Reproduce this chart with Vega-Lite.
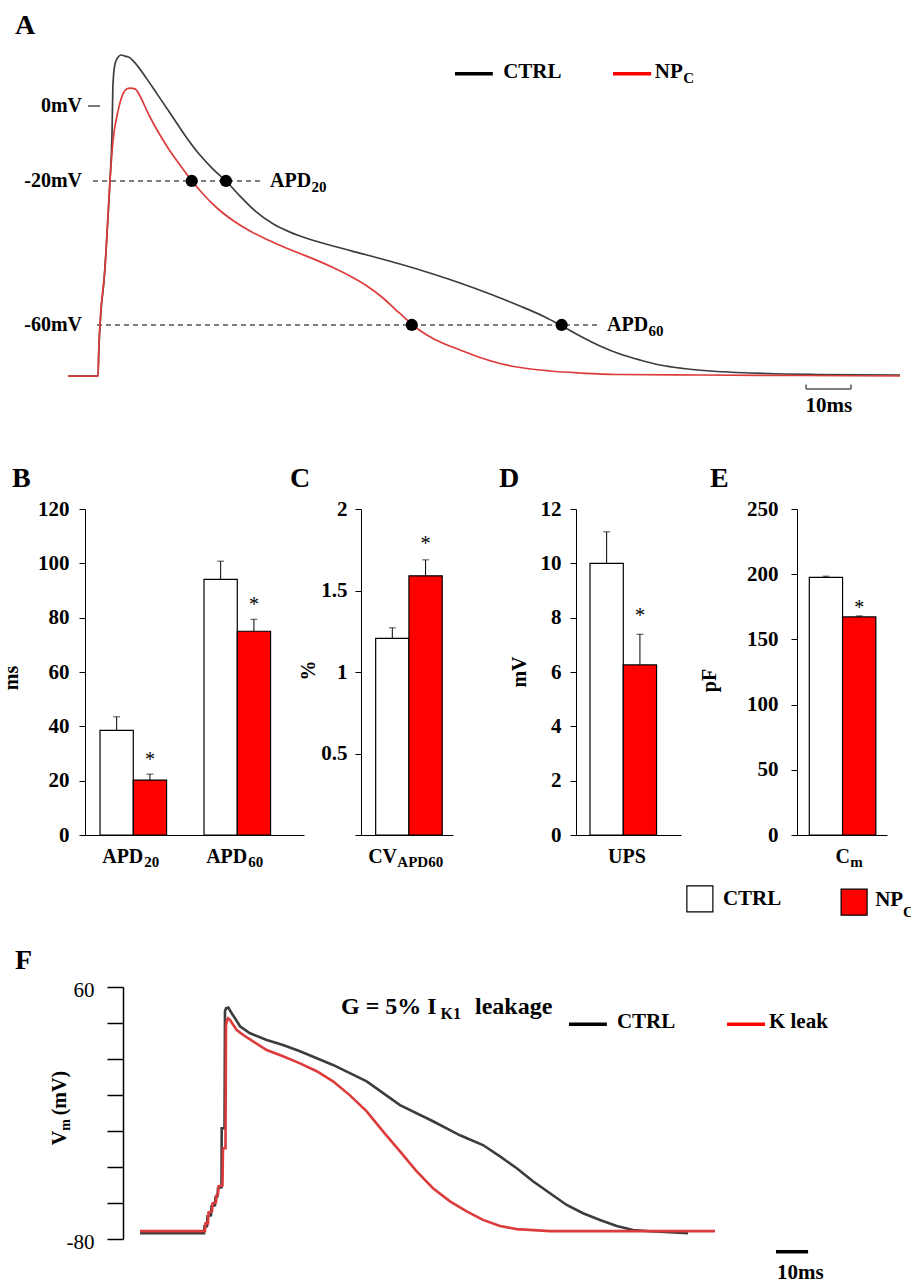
{
"$schema": "https://vega.github.io/schema/vega-lite/v6.json",
"padding": {"left": 1, "top": 11, "right": 5, "bottom": 0},
"background": "white",
"spacing": 13,
"config": {"view": {"stroke": null}, "font": "Liberation Serif", "axis": {"grid": false, "labelFontWeight": "bold", "titleFontWeight": "bold"}},
"datasets": {
"apA": [
{"s":"CTRL","t":0,"v":-74.2},{"s":"CTRL","t":6.67,"v":-74.2},{"s":"CTRL","t":6.89,"v":-65.8},{"s":"CTRL","t":7.33,"v":-56.1},{"s":"CTRL","t":8.0,"v":-47.8},{"s":"CTRL","t":8.67,"v":-34.7},{"s":"CTRL","t":9.33,"v":-20},{"s":"CTRL","t":9.78,"v":-6.9},{"s":"CTRL","t":10.0,"v":6.9},{"s":"CTRL","t":10.44,"v":12.5},{"s":"CTRL","t":11.11,"v":14.4},{"s":"CTRL","t":11.78,"v":15.0},{"s":"CTRL","t":12.67,"v":14.7},{"s":"CTRL","t":13.78,"v":14.2},{"s":"CTRL","t":14.89,"v":12.8},{"s":"CTRL","t":17.56,"v":8.3},{"s":"CTRL","t":19.78,"v":4.2},{"s":"CTRL","t":22.67,"v":-1.1},{"s":"CTRL","t":26.44,"v":-8.1},{"s":"CTRL","t":29.33,"v":-12.8},{"s":"CTRL","t":32.22,"v":-16.7},{"s":"CTRL","t":35.11,"v":-20},{"s":"CTRL","t":38.22,"v":-24.2},{"s":"CTRL","t":41.56,"v":-28.3},{"s":"CTRL","t":45.56,"v":-31.9},{"s":"CTRL","t":49.33,"v":-34.2},{"s":"CTRL","t":51.56,"v":-35.28},{"s":"CTRL","t":58.89,"v":-38.06},{"s":"CTRL","t":66.44,"v":-40.56},{"s":"CTRL","t":73.78,"v":-43.06},{"s":"CTRL","t":81.11,"v":-45.83},{"s":"CTRL","t":87.11,"v":-48.33},{"s":"CTRL","t":93.78,"v":-51.39},{"s":"CTRL","t":100.44,"v":-54.72},{"s":"CTRL","t":106.0,"v":-57.78},{"s":"CTRL","t":109.78,"v":-60.28},{"s":"CTRL","t":113.78,"v":-63.06},{"s":"CTRL","t":118.22,"v":-65.83},{"s":"CTRL","t":122.67,"v":-68.06},{"s":"CTRL","t":127.11,"v":-69.72},{"s":"CTRL","t":131.56,"v":-71.11},{"s":"CTRL","t":136.67,"v":-72.08},{"s":"CTRL","t":144.22,"v":-72.92},{"s":"CTRL","t":151.56,"v":-73.33},{"s":"CTRL","t":158.89,"v":-73.61},{"s":"CTRL","t":166.44,"v":-73.75},{"s":"CTRL","t":184.89,"v":-73.89},
{"s":"NP","t":0,"v":-74.2},{"s":"NP","t":6.67,"v":-74.2},{"s":"NP","t":6.78,"v":-68.6},{"s":"NP","t":7.11,"v":-59.7},{"s":"NP","t":8.22,"v":-44.2},{"s":"NP","t":9.33,"v":-20},{"s":"NP","t":10.0,"v":-8.9},{"s":"NP","t":11.11,"v":-0.6},{"s":"NP","t":12.22,"v":4.2},{"s":"NP","t":13.11,"v":5.6},{"s":"NP","t":13.78,"v":5.8},{"s":"NP","t":14.89,"v":5.6},{"s":"NP","t":16.0,"v":3.6},{"s":"NP","t":17.56,"v":-0.56},{"s":"NP","t":18.22,"v":-2.22},{"s":"NP","t":20.44,"v":-7.22},{"s":"NP","t":22.67,"v":-11.67},{"s":"NP","t":24.89,"v":-15.56},{"s":"NP","t":27.56,"v":-20},{"s":"NP","t":30.0,"v":-23.61},{"s":"NP","t":33.11,"v":-27.5},{"s":"NP","t":36.67,"v":-30.97},{"s":"NP","t":40.44,"v":-33.89},{"s":"NP","t":44.22,"v":-36.25},{"s":"NP","t":48.22,"v":-38.47},{"s":"NP","t":51.56,"v":-40.14},{"s":"NP","t":58.89,"v":-44.03},{"s":"NP","t":62.67,"v":-46.39},{"s":"NP","t":66.44,"v":-49.17},{"s":"NP","t":70.0,"v":-52.5},{"s":"NP","t":72.67,"v":-55.56},{"s":"NP","t":74.89,"v":-58.06},{"s":"NP","t":76.44,"v":-59.86},{"s":"NP","t":78.22,"v":-61.53},{"s":"NP","t":81.11,"v":-63.75},{"s":"NP","t":84.0,"v":-65.42},{"s":"NP","t":87.11,"v":-66.94},{"s":"NP","t":91.56,"v":-69.03},{"s":"NP","t":96.0,"v":-70.69},{"s":"NP","t":100.44,"v":-71.81},{"s":"NP","t":107.11,"v":-72.78},{"s":"NP","t":113.78,"v":-73.33},{"s":"NP","t":122.0,"v":-73.75},{"s":"NP","t":140.44,"v":-73.89},{"s":"NP","t":162.67,"v":-74.03},{"s":"NP","t":184.89,"v":-74.17}
],
"apdA": [{"t":27.5,"v":-20},{"t":35.1,"v":-20},{"t":76.4,"v":-60},{"t":109.7,"v":-60}],
"apF": [
{"s":"CTRL","t":0,"v":-76.8},{"s":"CTRL","t":19.75,"v":-76.8},{"s":"CTRL","t":19.91,"v":-72.9},{"s":"CTRL","t":20.68,"v":-72.9},{"s":"CTRL","t":20.83,"v":-67.4},{"s":"CTRL","t":21.91,"v":-66.8},{"s":"CTRL","t":22.07,"v":-61.8},{"s":"CTRL","t":23.15,"v":-61.3},{"s":"CTRL","t":23.3,"v":-56.8},{"s":"CTRL","t":23.92,"v":-56.3},{"s":"CTRL","t":24.07,"v":-51.8},{"s":"CTRL","t":25.15,"v":-51.3},{"s":"CTRL","t":25.22,"v":-18.5},{"s":"CTRL","t":26.08,"v":-18.5},{"s":"CTRL","t":26.23,"v":46.5},{"s":"CTRL","t":26.54,"v":48.2},{"s":"CTRL","t":27.25,"v":48.6},{"s":"CTRL","t":28.3,"v":45.4},{"s":"CTRL","t":29.32,"v":42.6},{"s":"CTRL","t":30.86,"v":38.2},{"s":"CTRL","t":33.95,"v":34.3},{"s":"CTRL","t":39.1,"v":30.6},{"s":"CTRL","t":44.14,"v":27.8},{"s":"CTRL","t":49.38,"v":24.3},{"s":"CTRL","t":59.57,"v":16.7},{"s":"CTRL","t":69.97,"v":7.6},{"s":"CTRL","t":80.25,"v":-5.6},{"s":"CTRL","t":90.43,"v":-14.6},{"s":"CTRL","t":98.77,"v":-22.4},{"s":"CTRL","t":105.86,"v":-27.8},{"s":"CTRL","t":111.11,"v":-34.1},{"s":"CTRL","t":116.27,"v":-40.7},{"s":"CTRL","t":121.3,"v":-47.9},{"s":"CTRL","t":126.54,"v":-54.6},{"s":"CTRL","t":131.7,"v":-61.1},{"s":"CTRL","t":136.73,"v":-65.7},{"s":"CTRL","t":141.98,"v":-69.4},{"s":"CTRL","t":147.13,"v":-72.8},{"s":"CTRL","t":152.16,"v":-75.0},{"s":"CTRL","t":157.41,"v":-75.7},{"s":"CTRL","t":169.14,"v":-76.8},
{"s":"NP","t":0,"v":-75.6},{"s":"NP","t":20.06,"v":-75.6},{"s":"NP","t":20.22,"v":-71.3},{"s":"NP","t":20.99,"v":-71.3},{"s":"NP","t":21.14,"v":-65.2},{"s":"NP","t":22.22,"v":-64.6},{"s":"NP","t":22.38,"v":-60.2},{"s":"NP","t":23.46,"v":-59.6},{"s":"NP","t":23.61,"v":-55.7},{"s":"NP","t":24.07,"v":-55.2},{"s":"NP","t":24.23,"v":-50.7},{"s":"NP","t":25.46,"v":-50.2},{"s":"NP","t":25.62,"v":-29.6},{"s":"NP","t":26.39,"v":-29.6},{"s":"NP","t":26.54,"v":38.7},{"s":"NP","t":26.85,"v":41.5},{"s":"NP","t":27.16,"v":42.6},{"s":"NP","t":27.78,"v":41.7},{"s":"NP","t":28.8,"v":38.9},{"s":"NP","t":29.85,"v":36.1},{"s":"NP","t":31.88,"v":33.3},{"s":"NP","t":34.88,"v":29.8},{"s":"NP","t":39.1,"v":25.0},{"s":"NP","t":44.14,"v":21.5},{"s":"NP","t":49.38,"v":17.6},{"s":"NP","t":54.54,"v":13.2},{"s":"NP","t":59.57,"v":7.6},{"s":"NP","t":64.81,"v":-0.2},{"s":"NP","t":69.97,"v":-9.1},{"s":"NP","t":75.0,"v":-20.2},{"s":"NP","t":80.25,"v":-31.3},{"s":"NP","t":85.4,"v":-42.4},{"s":"NP","t":90.43,"v":-51.8},{"s":"NP","t":95.68,"v":-59.1},{"s":"NP","t":100.83,"v":-64.6},{"s":"NP","t":105.86,"v":-69.4},{"s":"NP","t":111.11,"v":-72.8},{"s":"NP","t":116.27,"v":-74.5},{"s":"NP","t":126.54,"v":-75.6},{"s":"NP","t":177.47,"v":-75.6}
],
"B": [{"cat":"APD20","group":"CTRL","mean":38.5,"hi":43.5,"sig":""},{"cat":"APD20","group":"NP","mean":20.2,"hi":22.4,"sig":"*"},{"cat":"APD60","group":"CTRL","mean":94.1,"hi":100.8,"sig":""},{"cat":"APD60","group":"NP","mean":75.0,"hi":79.4,"sig":"*"}],
"C": [{"cat":"CV","group":"CTRL","mean":1.206,"hi":1.271,"sig":""},{"cat":"CV","group":"NP","mean":1.59,"hi":1.688,"sig":"*"}],
"D": [{"cat":"UPS","group":"CTRL","mean":10.0,"hi":11.16,"sig":""},{"cat":"UPS","group":"NP","mean":6.26,"hi":7.39,"sig":"*"}],
"E": [{"cat":"Cm","group":"CTRL","mean":197.5,"hi":198.5,"sig":""},{"cat":"Cm","group":"NP","mean":167.2,"hi":168.0,"sig":"*"}]
},
"vconcat": [
{
"width": 820, "height": 406,
"data": {"values": [{}]},
"title": {"text": "A", "anchor": "start", "frame": "group", "dx": -70, "offset": -15.5, "baseline": "alphabetic", "fontSize": 28, "fontWeight": "bold", "font": "Liberation Serif", "color": "black"},
"layer": [
{"mark": {"type": "rule", "strokeDash": [5,4], "color": "black", "strokeWidth": 1.1}, "encoding": {"x": {"datum": 5.56, "type": "quantitative", "scale": {"domain": [3.778, 186], "nice": false, "zero": false}, "axis": null}, "x2": {"datum": 43.1}, "y": {"datum": -20, "type": "quantitative", "scale": {"domain": [-95.28, 17.5], "nice": false, "zero": false}, "axis": null}}},
{"mark": {"type": "rule", "strokeDash": [5,4], "color": "black", "strokeWidth": 1.1}, "encoding": {"x": {"datum": 6.44, "type": "quantitative", "scale": {"domain": [3.778, 186], "nice": false, "zero": false}, "axis": null}, "x2": {"datum": 117.8}, "y": {"datum": -60, "type": "quantitative", "scale": {"domain": [-95.28, 17.5], "nice": false, "zero": false}, "axis": null}}},
{"mark": {"type": "rule", "color": "#555555", "strokeWidth": 1.6}, "encoding": {"x": {"datum": 4.44, "type": "quantitative", "scale": {"domain": [3.778, 186], "nice": false, "zero": false}, "axis": null}, "x2": {"datum": 7.11}, "y": {"datum": 0.83, "type": "quantitative", "scale": {"domain": [-95.28, 17.5], "nice": false, "zero": false}, "axis": null}}},
{"data": {"name": "apA"}, "mark": {"type": "line", "strokeWidth": 1.7, "interpolate": "monotone"}, "encoding": {"x": {"field": "t", "type": "quantitative", "scale": {"domain": [3.778, 186], "nice": false, "zero": false}, "axis": null}, "y": {"field": "v", "type": "quantitative", "scale": {"domain": [-95.28, 17.5], "nice": false, "zero": false}, "axis": null}, "color": {"field": "s", "type": "nominal", "scale": {"domain": ["CTRL", "NP"], "range": ["#3d3d3d", "#dc3b3b"]}, "legend": null}}},
{"data": {"name": "apdA"}, "mark": {"type": "circle", "size": 150, "color": "black", "opacity": 1}, "encoding": {"x": {"field": "t", "type": "quantitative", "scale": {"domain": [3.778, 186], "nice": false, "zero": false}, "axis": null}, "y": {"field": "v", "type": "quantitative", "scale": {"domain": [-95.28, 17.5], "nice": false, "zero": false}, "axis": null}}},
{"mark": {"type": "text", "text": "0mV", "align": "right", "baseline": "middle", "fontSize": 20, "fontWeight": "bold", "font": "Liberation Serif", "color": "black"}, "encoding": {"x": {"datum": 3.11, "type": "quantitative", "scale": {"domain": [3.778, 186], "nice": false, "zero": false}, "axis": null}, "y": {"datum": 0.83, "type": "quantitative", "scale": {"domain": [-95.28, 17.5], "nice": false, "zero": false}, "axis": null}}},
{"mark": {"type": "text", "text": "-20mV", "align": "right", "baseline": "middle", "fontSize": 20, "fontWeight": "bold", "font": "Liberation Serif", "color": "black"}, "encoding": {"x": {"datum": 3.11, "type": "quantitative", "scale": {"domain": [3.778, 186], "nice": false, "zero": false}, "axis": null}, "y": {"datum": -20, "type": "quantitative", "scale": {"domain": [-95.28, 17.5], "nice": false, "zero": false}, "axis": null}}},
{"mark": {"type": "text", "text": "-60mV", "align": "right", "baseline": "middle", "fontSize": 20, "fontWeight": "bold", "font": "Liberation Serif", "color": "black"}, "encoding": {"x": {"datum": 3.11, "type": "quantitative", "scale": {"domain": [3.778, 186], "nice": false, "zero": false}, "axis": null}, "y": {"datum": -60, "type": "quantitative", "scale": {"domain": [-95.28, 17.5], "nice": false, "zero": false}, "axis": null}}},
{"mark": {"type": "text", "text": "APD", "align": "left", "baseline": "middle", "fontSize": 20, "fontWeight": "bold", "font": "Liberation Serif", "color": "black"}, "encoding": {"x": {"datum": 44.9, "type": "quantitative", "scale": {"domain": [3.778, 186], "nice": false, "zero": false}, "axis": null}, "y": {"datum": -20, "type": "quantitative", "scale": {"domain": [-95.28, 17.5], "nice": false, "zero": false}, "axis": null}}},
{"mark": {"type": "text", "text": "20", "align": "left", "baseline": "alphabetic", "fontSize": 15, "fontWeight": "bold", "font": "Liberation Serif", "color": "black"}, "encoding": {"x": {"datum": 54.1, "type": "quantitative", "scale": {"domain": [3.778, 186], "nice": false, "zero": false}, "axis": null}, "y": {"datum": -23.06, "type": "quantitative", "scale": {"domain": [-95.28, 17.5], "nice": false, "zero": false}, "axis": null}}},
{"mark": {"type": "text", "text": "APD", "align": "left", "baseline": "middle", "fontSize": 20, "fontWeight": "bold", "font": "Liberation Serif", "color": "black"}, "encoding": {"x": {"datum": 119.78, "type": "quantitative", "scale": {"domain": [3.778, 186], "nice": false, "zero": false}, "axis": null}, "y": {"datum": -60, "type": "quantitative", "scale": {"domain": [-95.28, 17.5], "nice": false, "zero": false}, "axis": null}}},
{"mark": {"type": "text", "text": "60", "align": "left", "baseline": "alphabetic", "fontSize": 15, "fontWeight": "bold", "font": "Liberation Serif", "color": "black"}, "encoding": {"x": {"datum": 129.0, "type": "quantitative", "scale": {"domain": [3.778, 186], "nice": false, "zero": false}, "axis": null}, "y": {"datum": -63.06, "type": "quantitative", "scale": {"domain": [-95.28, 17.5], "nice": false, "zero": false}, "axis": null}}},
{"mark": {"type": "rule", "color": "black", "strokeWidth": 3.5}, "encoding": {"x": {"datum": 86.0, "type": "quantitative", "scale": {"domain": [3.778, 186], "nice": false, "zero": false}, "axis": null}, "x2": {"datum": 94.4}, "y": {"datum": 9.8, "type": "quantitative", "scale": {"domain": [-95.28, 17.5], "nice": false, "zero": false}, "axis": null}}},
{"mark": {"type": "text", "text": "CTRL", "align": "left", "baseline": "alphabetic", "fontSize": 21, "fontWeight": "bold", "font": "Liberation Serif", "color": "black"}, "encoding": {"x": {"datum": 96.7, "type": "quantitative", "scale": {"domain": [3.778, 186], "nice": false, "zero": false}, "axis": null}, "y": {"datum": 8.61, "type": "quantitative", "scale": {"domain": [-95.28, 17.5], "nice": false, "zero": false}, "axis": null}}},
{"mark": {"type": "rule", "color": "#ff0000", "strokeWidth": 3.5}, "encoding": {"x": {"datum": 121.1, "type": "quantitative", "scale": {"domain": [3.778, 186], "nice": false, "zero": false}, "axis": null}, "x2": {"datum": 129.6}, "y": {"datum": 9.8, "type": "quantitative", "scale": {"domain": [-95.28, 17.5], "nice": false, "zero": false}, "axis": null}}},
{"mark": {"type": "text", "text": "NP", "align": "left", "baseline": "alphabetic", "fontSize": 21, "fontWeight": "bold", "font": "Liberation Serif", "color": "black"}, "encoding": {"x": {"datum": 130.4, "type": "quantitative", "scale": {"domain": [3.778, 186], "nice": false, "zero": false}, "axis": null}, "y": {"datum": 8.61, "type": "quantitative", "scale": {"domain": [-95.28, 17.5], "nice": false, "zero": false}, "axis": null}}},
{"mark": {"type": "text", "text": "C", "align": "left", "baseline": "alphabetic", "fontSize": 15, "fontWeight": "bold", "font": "Liberation Serif", "color": "black"}, "encoding": {"x": {"datum": 136.7, "type": "quantitative", "scale": {"domain": [3.778, 186], "nice": false, "zero": false}, "axis": null}, "y": {"datum": 7.31, "type": "quantitative", "scale": {"domain": [-95.28, 17.5], "nice": false, "zero": false}, "axis": null}}},
{"mark": {"type": "rule", "color": "#555555", "strokeWidth": 1.5}, "encoding": {"x": {"datum": 164.0, "type": "quantitative", "scale": {"domain": [3.778, 186], "nice": false, "zero": false}, "axis": null}, "x2": {"datum": 174.0}, "y": {"datum": -77.8, "type": "quantitative", "scale": {"domain": [-95.28, 17.5], "nice": false, "zero": false}, "axis": null}}},
{"mark": {"type": "rule", "color": "#555555", "strokeWidth": 1.5}, "encoding": {"x": {"datum": 164.0, "type": "quantitative", "scale": {"domain": [3.778, 186], "nice": false, "zero": false}, "axis": null}, "y": {"datum": -77.8, "type": "quantitative", "scale": {"domain": [-95.28, 17.5], "nice": false, "zero": false}, "axis": null}, "y2": {"datum": -76.5}}},
{"mark": {"type": "rule", "color": "#555555", "strokeWidth": 1.5}, "encoding": {"x": {"datum": 174.0, "type": "quantitative", "scale": {"domain": [3.778, 186], "nice": false, "zero": false}, "axis": null}, "y": {"datum": -77.8, "type": "quantitative", "scale": {"domain": [-95.28, 17.5], "nice": false, "zero": false}, "axis": null}, "y2": {"datum": -76.5}}},
{"mark": {"type": "text", "text": "10ms", "align": "center", "baseline": "alphabetic", "fontSize": 21, "fontWeight": "bold", "font": "Liberation Serif", "color": "black"}, "encoding": {"x": {"datum": 169.1, "type": "quantitative", "scale": {"domain": [3.778, 186], "nice": false, "zero": false}, "axis": null}, "y": {"datum": -84.2, "type": "quantitative", "scale": {"domain": [-95.28, 17.5], "nice": false, "zero": false}, "axis": null}}}
]
},
{
"hconcat": [
{
"width": 219, "height": 326,
"data": {"name": "B"},
"title": {"text": "B", "anchor": "start", "frame": "group", "dx": -73, "offset": -17, "baseline": "alphabetic", "fontSize": 28, "fontWeight": "bold", "font": "Liberation Serif", "color": "black"},
"layer": [
{"mark": {"type": "bar", "stroke": "black", "strokeWidth": 1.2},
 "encoding": {
  "x": {"field": "cat", "type": "nominal", "scale": {"domain": ["APD20", "APD60"], "paddingInner": 0.36, "paddingOuter": 0.233, "align": 0.31}, "axis": {"title": null, "labels": false, "ticks": false, "domainColor": "black", "domainWidth": 1}},
  "xOffset": {"field": "group", "type": "nominal", "scale": {"domain": ["CTRL", "NP"], "paddingInner": 0, "paddingOuter": 0}},
  "y": {"field": "mean", "type": "quantitative", "scale": {"domain": [0, 120], "nice": false}, "axis": {"values": [0,20,40,60,80,100,120], "title": "ms", "titleFont": "Liberation Serif", "titleFontSize": 20, "titleFontWeight": "bold", "titleColor": "black", "titleAngle": 270, "titleBaseline": "middle", "titleAlign": "center", "titleX": -73.9, "titleY": 168.5, "labelFont": "Liberation Serif", "labelFontSize": 21, "labelFontWeight": "bold", "labelColor": "black", "labelPadding": 10, "tickSize": 6, "tickColor": "black", "domainColor": "black"}},
  "fill": {"field": "group", "type": "nominal", "scale": {"domain": ["CTRL", "NP"], "range": ["white", "#ff0000"]}, "legend": null}
 }},
{"mark": {"type": "rule", "color": "black", "strokeWidth": 1},
 "encoding": {
  "x": {"field": "cat", "type": "nominal", "scale": {"domain": ["APD20", "APD60"], "paddingInner": 0.36, "paddingOuter": 0.233, "align": 0.31}},
  "xOffset": {"field": "group", "type": "nominal", "scale": {"domain": ["CTRL", "NP"], "paddingInner": 0, "paddingOuter": 0}},
  "y": {"field": "mean", "type": "quantitative", "scale": {"domain": [0, 120], "nice": false}},
  "y2": {"field": "hi"}
 }},
{"mark": {"type": "tick", "color": "black", "thickness": 1, "size": 7},
 "encoding": {
  "x": {"field": "cat", "type": "nominal", "scale": {"domain": ["APD20", "APD60"], "paddingInner": 0.36, "paddingOuter": 0.233, "align": 0.31}},
  "xOffset": {"field": "group", "type": "nominal", "scale": {"domain": ["CTRL", "NP"], "paddingInner": 0, "paddingOuter": 0}},
  "y": {"field": "hi", "type": "quantitative", "scale": {"domain": [0, 120], "nice": false}}
 }},
{"mark": {"type": "text", "fontSize": 20, "dy": -8, "baseline": "alphabetic", "color": "black", "font": "Liberation Serif"},
 "encoding": {
  "x": {"field": "cat", "type": "nominal", "scale": {"domain": ["APD20", "APD60"], "paddingInner": 0.36, "paddingOuter": 0.233, "align": 0.31}},
  "xOffset": {"field": "group", "type": "nominal", "scale": {"domain": ["CTRL", "NP"], "paddingInner": 0, "paddingOuter": 0}},
  "y": {"field": "hi", "type": "quantitative", "scale": {"domain": [0, 120], "nice": false}},
  "text": {"field": "sig"}
 }},
{"data": {"values": [{"cat": "APD20", "main": "APD", "sub": "20"}, {"cat": "APD60", "main": "APD", "sub": "60"}]},
 "mark": {"type": "text", "align": "right", "dx": 10, "dy": 27.5, "baseline": "alphabetic", "fontSize": 20, "fontWeight": "bold", "color": "black", "font": "Liberation Serif"},
 "encoding": {
  "x": {"field": "cat", "type": "nominal", "scale": {"domain": ["APD20", "APD60"], "paddingInner": 0.36, "paddingOuter": 0.233, "align": 0.31}},
  "y": {"datum": 0, "type": "quantitative", "scale": {"domain": [0, 120], "nice": false}},
  "text": {"field": "main"}
 }},
{"data": {"values": [{"cat": "APD20", "main": "APD", "sub": "20"}, {"cat": "APD60", "main": "APD", "sub": "60"}]},
 "mark": {"type": "text", "align": "left", "dx": 11, "dy": 31.5, "baseline": "alphabetic", "fontSize": 15, "fontWeight": "bold", "color": "black", "font": "Liberation Serif"},
 "encoding": {
  "x": {"field": "cat", "type": "nominal", "scale": {"domain": ["APD20", "APD60"], "paddingInner": 0.36, "paddingOuter": 0.233, "align": 0.31}},
  "y": {"datum": 0, "type": "quantitative", "scale": {"domain": [0, 120], "nice": false}},
  "text": {"field": "sub"}
 }}
]
},
{
"width": 92, "height": 326,
"data": {"name": "C"},
"title": {"text": "C", "anchor": "start", "frame": "group", "dx": -71, "offset": -17, "baseline": "alphabetic", "fontSize": 28, "fontWeight": "bold", "font": "Liberation Serif", "color": "black"},
"layer": [
{"mark": {"type": "bar", "stroke": "black", "strokeWidth": 1.2},
 "encoding": {
  "x": {"field": "cat", "type": "nominal", "scale": {"domain": ["CV"], "paddingInner": 0, "paddingOuter": 0.204, "align": 0.55}, "axis": {"title": null, "labels": false, "ticks": false, "domainColor": "black", "domainWidth": 1}},
  "xOffset": {"field": "group", "type": "nominal", "scale": {"domain": ["CTRL", "NP"], "paddingInner": 0, "paddingOuter": 0}},
  "y": {"field": "mean", "type": "quantitative", "scale": {"domain": [0, 2], "nice": false}, "axis": {"values": [0,0.5,1,1.5,2], "format": "~g", "labelExpr": "datum.value == 0 ? '' : datum.label", "title": "%", "titleFont": "Liberation Serif", "titleFontSize": 20, "titleFontWeight": "bold", "titleColor": "black", "titleAngle": 270, "titleBaseline": "middle", "titleAlign": "center", "titleX": -52.7, "titleY": 161, "labelFont": "Liberation Serif", "labelFontSize": 21, "labelFontWeight": "bold", "labelColor": "black", "labelPadding": 8, "tickSize": 6, "tickColor": "black", "domainColor": "black"}},
  "fill": {"field": "group", "type": "nominal", "scale": {"domain": ["CTRL", "NP"], "range": ["white", "#ff0000"]}, "legend": null}
 }},
{"mark": {"type": "rule", "color": "black", "strokeWidth": 1},
 "encoding": {
  "x": {"field": "cat", "type": "nominal", "scale": {"domain": ["CV"], "paddingInner": 0, "paddingOuter": 0.204, "align": 0.55}},
  "xOffset": {"field": "group", "type": "nominal", "scale": {"domain": ["CTRL", "NP"], "paddingInner": 0, "paddingOuter": 0}},
  "y": {"field": "mean", "type": "quantitative", "scale": {"domain": [0, 2], "nice": false}},
  "y2": {"field": "hi"}
 }},
{"mark": {"type": "tick", "color": "black", "thickness": 1, "size": 7},
 "encoding": {
  "x": {"field": "cat", "type": "nominal", "scale": {"domain": ["CV"], "paddingInner": 0, "paddingOuter": 0.204, "align": 0.55}},
  "xOffset": {"field": "group", "type": "nominal", "scale": {"domain": ["CTRL", "NP"], "paddingInner": 0, "paddingOuter": 0}},
  "y": {"field": "hi", "type": "quantitative", "scale": {"domain": [0, 2], "nice": false}}
 }},
{"mark": {"type": "text", "fontSize": 20, "dy": -9.5, "baseline": "alphabetic", "color": "black", "font": "Liberation Serif"},
 "encoding": {
  "x": {"field": "cat", "type": "nominal", "scale": {"domain": ["CV"], "paddingInner": 0, "paddingOuter": 0.204, "align": 0.55}},
  "xOffset": {"field": "group", "type": "nominal", "scale": {"domain": ["CTRL", "NP"], "paddingInner": 0, "paddingOuter": 0}},
  "y": {"field": "hi", "type": "quantitative", "scale": {"domain": [0, 2], "nice": false}},
  "text": {"field": "sig"}
 }},
{"data": {"values": [{"cat": "CV", "main": "CV", "sub": "APD60"}]},
 "mark": {"type": "text", "align": "right", "dx": -11.3, "dy": 27.5, "baseline": "alphabetic", "fontSize": 20, "fontWeight": "bold", "color": "black", "font": "Liberation Serif"},
 "encoding": {
  "x": {"field": "cat", "type": "nominal", "scale": {"domain": ["CV"], "paddingInner": 0, "paddingOuter": 0.204, "align": 0.55}},
  "y": {"datum": 0, "type": "quantitative", "scale": {"domain": [0, 2], "nice": false}},
  "text": {"field": "main"}
 }},
{"data": {"values": [{"cat": "CV", "main": "CV", "sub": "APD60"}]},
 "mark": {"type": "text", "align": "left", "dx": -11, "dy": 31.5, "baseline": "alphabetic", "fontSize": 15, "fontWeight": "bold", "color": "black", "font": "Liberation Serif"},
 "encoding": {
  "x": {"field": "cat", "type": "nominal", "scale": {"domain": ["CV"], "paddingInner": 0, "paddingOuter": 0.204, "align": 0.55}},
  "y": {"datum": 0, "type": "quantitative", "scale": {"domain": [0, 2], "nice": false}},
  "text": {"field": "sub"}
 }}
]
},
{"width": 9, "height": 326, "data": {"values": [{}]}, "mark": {"type": "text", "text": ""}},
{
"width": 105, "height": 326,
"data": {"name": "D"},
"title": {"text": "D", "anchor": "start", "frame": "group", "dx": -77, "offset": -17, "baseline": "alphabetic", "fontSize": 28, "fontWeight": "bold", "font": "Liberation Serif", "color": "black"},
"layer": [
{"mark": {"type": "bar", "stroke": "black", "strokeWidth": 1.2},
 "encoding": {
  "x": {"field": "cat", "type": "nominal", "scale": {"domain": ["UPS"], "paddingInner": 0, "paddingOuter": 0.308, "align": 0.35}, "axis": {"title": null, "labels": false, "ticks": false, "domainColor": "black", "domainWidth": 1}},
  "xOffset": {"field": "group", "type": "nominal", "scale": {"domain": ["CTRL", "NP"], "paddingInner": 0, "paddingOuter": 0}},
  "y": {"field": "mean", "type": "quantitative", "scale": {"domain": [0, 12], "nice": false}, "axis": {"values": [0,2,4,6,8,10,12], "title": "mV", "titleFont": "Liberation Serif", "titleFontSize": 20, "titleFontWeight": "bold", "titleColor": "black", "titleAngle": 270, "titleBaseline": "middle", "titleAlign": "center", "titleX": -56.4, "titleY": 162.5, "labelFont": "Liberation Serif", "labelFontSize": 21, "labelFontWeight": "bold", "labelColor": "black", "labelPadding": 9, "tickSize": 6, "tickColor": "black", "domainColor": "black"}},
  "fill": {"field": "group", "type": "nominal", "scale": {"domain": ["CTRL", "NP"], "range": ["white", "#ff0000"]}, "legend": null}
 }},
{"mark": {"type": "rule", "color": "black", "strokeWidth": 1},
 "encoding": {
  "x": {"field": "cat", "type": "nominal", "scale": {"domain": ["UPS"], "paddingInner": 0, "paddingOuter": 0.308, "align": 0.35}},
  "xOffset": {"field": "group", "type": "nominal", "scale": {"domain": ["CTRL", "NP"], "paddingInner": 0, "paddingOuter": 0}},
  "y": {"field": "mean", "type": "quantitative", "scale": {"domain": [0, 12], "nice": false}},
  "y2": {"field": "hi"}
 }},
{"mark": {"type": "tick", "color": "black", "thickness": 1, "size": 7},
 "encoding": {
  "x": {"field": "cat", "type": "nominal", "scale": {"domain": ["UPS"], "paddingInner": 0, "paddingOuter": 0.308, "align": 0.35}},
  "xOffset": {"field": "group", "type": "nominal", "scale": {"domain": ["CTRL", "NP"], "paddingInner": 0, "paddingOuter": 0}},
  "y": {"field": "hi", "type": "quantitative", "scale": {"domain": [0, 12], "nice": false}}
 }},
{"mark": {"type": "text", "fontSize": 20, "dy": -12, "baseline": "alphabetic", "color": "black", "font": "Liberation Serif"},
 "encoding": {
  "x": {"field": "cat", "type": "nominal", "scale": {"domain": ["UPS"], "paddingInner": 0, "paddingOuter": 0.308, "align": 0.35}},
  "xOffset": {"field": "group", "type": "nominal", "scale": {"domain": ["CTRL", "NP"], "paddingInner": 0, "paddingOuter": 0}},
  "y": {"field": "hi", "type": "quantitative", "scale": {"domain": [0, 12], "nice": false}},
  "text": {"field": "sig"}
 }},
{"data": {"values": [{"cat": "UPS", "main": "UPS"}]},
 "mark": {"type": "text", "align": "center", "dx": 4.5, "dy": 27.5, "baseline": "alphabetic", "fontSize": 20, "fontWeight": "bold", "color": "black", "font": "Liberation Serif"},
 "encoding": {
  "x": {"field": "cat", "type": "nominal", "scale": {"domain": ["UPS"], "paddingInner": 0, "paddingOuter": 0.308, "align": 0.35}},
  "y": {"datum": 0, "type": "quantitative", "scale": {"domain": [0, 12], "nice": false}},
  "text": {"field": "main"}
 }}
]
},
{"width": 2, "height": 326, "data": {"values": [{}]}, "mark": {"type": "text", "text": ""}},
{
"width": 90, "height": 326,
"data": {"name": "E"},
"title": {"text": "E", "anchor": "start", "frame": "group", "dx": -87, "offset": -17, "baseline": "alphabetic", "fontSize": 28, "fontWeight": "bold", "font": "Liberation Serif", "color": "black"},
"layer": [
{"mark": {"type": "bar", "stroke": "black", "strokeWidth": 1.2},
 "encoding": {
  "x": {"field": "cat", "type": "nominal", "scale": {"domain": ["Cm"], "paddingInner": 0, "paddingOuter": 0.1955, "align": 0.486}, "axis": {"title": null, "labels": false, "ticks": false, "domainColor": "black", "domainWidth": 1}},
  "xOffset": {"field": "group", "type": "nominal", "scale": {"domain": ["CTRL", "NP"], "paddingInner": 0, "paddingOuter": 0}},
  "y": {"field": "mean", "type": "quantitative", "scale": {"domain": [0, 250], "nice": false}, "axis": {"values": [0,50,100,150,200,250], "title": "pF", "titleFont": "Liberation Serif", "titleFontSize": 20, "titleFontWeight": "bold", "titleColor": "black", "titleAngle": 270, "titleBaseline": "middle", "titleAlign": "center", "titleX": -87.6, "titleY": 171, "labelFont": "Liberation Serif", "labelFontSize": 21, "labelFontWeight": "bold", "labelColor": "black", "labelPadding": 13, "tickSize": 6, "tickColor": "black", "domainColor": "black"}},
  "fill": {"field": "group", "type": "nominal", "scale": {"domain": ["CTRL", "NP"], "range": ["white", "#ff0000"]}, "legend": null}
 }},
{"mark": {"type": "rule", "color": "black", "strokeWidth": 1},
 "encoding": {
  "x": {"field": "cat", "type": "nominal", "scale": {"domain": ["Cm"], "paddingInner": 0, "paddingOuter": 0.1955, "align": 0.486}},
  "xOffset": {"field": "group", "type": "nominal", "scale": {"domain": ["CTRL", "NP"], "paddingInner": 0, "paddingOuter": 0}},
  "y": {"field": "mean", "type": "quantitative", "scale": {"domain": [0, 250], "nice": false}},
  "y2": {"field": "hi"}
 }},
{"mark": {"type": "tick", "color": "black", "thickness": 1, "size": 7},
 "encoding": {
  "x": {"field": "cat", "type": "nominal", "scale": {"domain": ["Cm"], "paddingInner": 0, "paddingOuter": 0.1955, "align": 0.486}},
  "xOffset": {"field": "group", "type": "nominal", "scale": {"domain": ["CTRL", "NP"], "paddingInner": 0, "paddingOuter": 0}},
  "y": {"field": "hi", "type": "quantitative", "scale": {"domain": [0, 250], "nice": false}}
 }},
{"mark": {"type": "text", "fontSize": 20, "dy": -2, "baseline": "alphabetic", "color": "black", "font": "Liberation Serif"},
 "encoding": {
  "x": {"field": "cat", "type": "nominal", "scale": {"domain": ["Cm"], "paddingInner": 0, "paddingOuter": 0.1955, "align": 0.486}},
  "xOffset": {"field": "group", "type": "nominal", "scale": {"domain": ["CTRL", "NP"], "paddingInner": 0, "paddingOuter": 0}},
  "y": {"field": "hi", "type": "quantitative", "scale": {"domain": [0, 250], "nice": false}},
  "text": {"field": "sig"}
 }},
{"data": {"values": [{"cat": "Cm", "main": "C", "sub": "m"}]},
 "mark": {"type": "text", "align": "right", "dx": 8.4, "dy": 27.5, "baseline": "alphabetic", "fontSize": 20, "fontWeight": "bold", "color": "black", "font": "Liberation Serif"},
 "encoding": {
  "x": {"field": "cat", "type": "nominal", "scale": {"domain": ["Cm"], "paddingInner": 0, "paddingOuter": 0.1955, "align": 0.486}},
  "y": {"datum": 0, "type": "quantitative", "scale": {"domain": [0, 250], "nice": false}},
  "text": {"field": "main"}
 }},
{"data": {"values": [{"cat": "Cm", "main": "C", "sub": "m"}]},
 "mark": {"type": "text", "align": "left", "dx": 8.5, "dy": 31.5, "baseline": "alphabetic", "fontSize": 15, "fontWeight": "bold", "color": "black", "font": "Liberation Serif"},
 "encoding": {
  "x": {"field": "cat", "type": "nominal", "scale": {"domain": ["Cm"], "paddingInner": 0, "paddingOuter": 0.1955, "align": 0.486}},
  "y": {"datum": 0, "type": "quantitative", "scale": {"domain": [0, 250], "nice": false}},
  "text": {"field": "sub"}
 }}
]
}
],
"spacing": 57,
"bounds": "flush"
},
{
"width": 820, "height": 252,
"data": {"values": [{}]},
"layer": [
{"data": {"name": "apF"}, "mark": {"type": "line", "strokeWidth": 2.6}, "encoding": {"x": {"field": "t", "type": "quantitative", "scale": {"domain": [-16.975, 236.11], "nice": false, "zero": false}, "axis": null}, "y": {"field": "v", "type": "quantitative", "scale": {"domain": [-80, 60], "nice": false, "zero": false}, "axis": {"values": [-80,-60,-40,-20,0,20,40,60], "labelExpr": "datum.value == 60 ? '60' : (datum.value == -80 ? '-80' : '')", "title": null, "offset": -38, "tickSize": 16, "tickWidth": 1.5, "domainWidth": 1.5, "domainColor": "black", "tickColor": "black", "labelFont": "Liberation Serif", "labelFontSize": 21, "labelFontWeight": "normal", "labelColor": "black", "labelPadding": 13, "labelOffset": 3, "labelOverlap": false}}, "color": {"field": "s", "type": "nominal", "scale": {"domain": ["CTRL", "NP"], "range": ["black", "#ff0000"]}, "legend": null}}},
{"mark": {"type": "text", "text": "F", "align": "left", "baseline": "alphabetic", "fontSize": 28, "fontWeight": "bold", "font": "Liberation Serif", "color": "black"}, "encoding": {"x": {"datum": -38.58, "type": "quantitative", "scale": {"domain": [-16.975, 236.11], "nice": false, "zero": false}, "axis": null}, "y": {"datum": 69.8, "type": "quantitative", "scale": {"domain": [-80, 60], "nice": false, "zero": false}, "axis": {"values": [-80,-60,-40,-20,0,20,40,60], "labelExpr": "datum.value == 60 ? '60' : (datum.value == -80 ? '-80' : '')", "title": null, "offset": -38, "tickSize": 16, "tickWidth": 1.5, "domainWidth": 1.5, "domainColor": "black", "tickColor": "black", "labelFont": "Liberation Serif", "labelFontSize": 21, "labelFontWeight": "normal", "labelColor": "black", "labelPadding": 13, "labelOffset": 3, "labelOverlap": false}}}},
{"mark": {"type": "text", "text": "V", "angle": 270, "align": "left", "baseline": "alphabetic", "fontSize": 20, "fontWeight": "bold", "font": "Liberation Serif", "color": "black"}, "encoding": {"x": {"datum": -22.84, "type": "quantitative", "scale": {"domain": [-16.975, 236.11], "nice": false, "zero": false}, "axis": null}, "y": {"datum": -27.9, "type": "quantitative", "scale": {"domain": [-80, 60], "nice": false, "zero": false}, "axis": {"values": [-80,-60,-40,-20,0,20,40,60], "labelExpr": "datum.value == 60 ? '60' : (datum.value == -80 ? '-80' : '')", "title": null, "offset": -38, "tickSize": 16, "tickWidth": 1.5, "domainWidth": 1.5, "domainColor": "black", "tickColor": "black", "labelFont": "Liberation Serif", "labelFontSize": 21, "labelFontWeight": "normal", "labelColor": "black", "labelPadding": 13, "labelOffset": 3, "labelOverlap": false}}}},
{"mark": {"type": "text", "text": "m", "angle": 270, "align": "left", "baseline": "alphabetic", "fontSize": 14, "fontWeight": "bold", "font": "Liberation Serif", "color": "black"}, "encoding": {"x": {"datum": -21.6, "type": "quantitative", "scale": {"domain": [-16.975, 236.11], "nice": false, "zero": false}, "axis": null}, "y": {"datum": -19.9, "type": "quantitative", "scale": {"domain": [-80, 60], "nice": false, "zero": false}, "axis": {"values": [-80,-60,-40,-20,0,20,40,60], "labelExpr": "datum.value == 60 ? '60' : (datum.value == -80 ? '-80' : '')", "title": null, "offset": -38, "tickSize": 16, "tickWidth": 1.5, "domainWidth": 1.5, "domainColor": "black", "tickColor": "black", "labelFont": "Liberation Serif", "labelFontSize": 21, "labelFontWeight": "normal", "labelColor": "black", "labelPadding": 13, "labelOffset": 3, "labelOverlap": false}}}},
{"mark": {"type": "text", "text": "(mV)", "angle": 270, "align": "left", "baseline": "alphabetic", "fontSize": 20, "fontWeight": "bold", "font": "Liberation Serif", "color": "black"}, "encoding": {"x": {"datum": -22.84, "type": "quantitative", "scale": {"domain": [-16.975, 236.11], "nice": false, "zero": false}, "axis": null}, "y": {"datum": -11.3, "type": "quantitative", "scale": {"domain": [-80, 60], "nice": false, "zero": false}, "axis": {"values": [-80,-60,-40,-20,0,20,40,60], "labelExpr": "datum.value == 60 ? '60' : (datum.value == -80 ? '-80' : '')", "title": null, "offset": -38, "tickSize": 16, "tickWidth": 1.5, "domainWidth": 1.5, "domainColor": "black", "tickColor": "black", "labelFont": "Liberation Serif", "labelFontSize": 21, "labelFontWeight": "normal", "labelColor": "black", "labelPadding": 13, "labelOffset": 3, "labelOverlap": false}}}},
{"mark": {"type": "text", "text": "G = 5% I", "align": "left", "baseline": "alphabetic", "fontSize": 24, "fontWeight": "bold", "font": "Liberation Serif", "color": "black"}, "encoding": {"x": {"datum": 62.04, "type": "quantitative", "scale": {"domain": [-16.975, 236.11], "nice": false, "zero": false}, "axis": null}, "y": {"datum": 44.94, "type": "quantitative", "scale": {"domain": [-80, 60], "nice": false, "zero": false}, "axis": {"values": [-80,-60,-40,-20,0,20,40,60], "labelExpr": "datum.value == 60 ? '60' : (datum.value == -80 ? '-80' : '')", "title": null, "offset": -38, "tickSize": 16, "tickWidth": 1.5, "domainWidth": 1.5, "domainColor": "black", "tickColor": "black", "labelFont": "Liberation Serif", "labelFontSize": 21, "labelFontWeight": "normal", "labelColor": "black", "labelPadding": 13, "labelOffset": 3, "labelOverlap": false}}}},
{"mark": {"type": "text", "text": "K1", "align": "left", "baseline": "alphabetic", "fontSize": 16, "fontWeight": "bold", "font": "Liberation Serif", "color": "black"}, "encoding": {"x": {"datum": 92.75, "type": "quantitative", "scale": {"domain": [-16.975, 236.11], "nice": false, "zero": false}, "axis": null}, "y": {"datum": 42.06, "type": "quantitative", "scale": {"domain": [-80, 60], "nice": false, "zero": false}, "axis": {"values": [-80,-60,-40,-20,0,20,40,60], "labelExpr": "datum.value == 60 ? '60' : (datum.value == -80 ? '-80' : '')", "title": null, "offset": -38, "tickSize": 16, "tickWidth": 1.5, "domainWidth": 1.5, "domainColor": "black", "tickColor": "black", "labelFont": "Liberation Serif", "labelFontSize": 21, "labelFontWeight": "normal", "labelColor": "black", "labelPadding": 13, "labelOffset": 3, "labelOverlap": false}}}},
{"mark": {"type": "text", "text": "leakage", "align": "left", "baseline": "alphabetic", "fontSize": 24, "fontWeight": "bold", "font": "Liberation Serif", "color": "black"}, "encoding": {"x": {"datum": 103.4, "type": "quantitative", "scale": {"domain": [-16.975, 236.11], "nice": false, "zero": false}, "axis": null}, "y": {"datum": 44.94, "type": "quantitative", "scale": {"domain": [-80, 60], "nice": false, "zero": false}, "axis": {"values": [-80,-60,-40,-20,0,20,40,60], "labelExpr": "datum.value == 60 ? '60' : (datum.value == -80 ? '-80' : '')", "title": null, "offset": -38, "tickSize": 16, "tickWidth": 1.5, "domainWidth": 1.5, "domainColor": "black", "tickColor": "black", "labelFont": "Liberation Serif", "labelFontSize": 21, "labelFontWeight": "normal", "labelColor": "black", "labelPadding": 13, "labelOffset": 3, "labelOverlap": false}}}},
{"mark": {"type": "rule", "color": "black", "strokeWidth": 3.5}, "encoding": {"x": {"datum": 132.4, "type": "quantitative", "scale": {"domain": [-16.975, 236.11], "nice": false, "zero": false}, "axis": null}, "x2": {"datum": 144.1}, "y": {"datum": 39.3, "type": "quantitative", "scale": {"domain": [-80, 60], "nice": false, "zero": false}, "axis": {"values": [-80,-60,-40,-20,0,20,40,60], "labelExpr": "datum.value == 60 ? '60' : (datum.value == -80 ? '-80' : '')", "title": null, "offset": -38, "tickSize": 16, "tickWidth": 1.5, "domainWidth": 1.5, "domainColor": "black", "tickColor": "black", "labelFont": "Liberation Serif", "labelFontSize": 21, "labelFontWeight": "normal", "labelColor": "black", "labelPadding": 13, "labelOffset": 3, "labelOverlap": false}}}},
{"mark": {"type": "text", "text": "CTRL", "align": "left", "baseline": "alphabetic", "fontSize": 21, "fontWeight": "bold", "font": "Liberation Serif", "color": "black"}, "encoding": {"x": {"datum": 147.2, "type": "quantitative", "scale": {"domain": [-16.975, 236.11], "nice": false, "zero": false}, "axis": null}, "y": {"datum": 37.1, "type": "quantitative", "scale": {"domain": [-80, 60], "nice": false, "zero": false}, "axis": {"values": [-80,-60,-40,-20,0,20,40,60], "labelExpr": "datum.value == 60 ? '60' : (datum.value == -80 ? '-80' : '')", "title": null, "offset": -38, "tickSize": 16, "tickWidth": 1.5, "domainWidth": 1.5, "domainColor": "black", "tickColor": "black", "labelFont": "Liberation Serif", "labelFontSize": 21, "labelFontWeight": "normal", "labelColor": "black", "labelPadding": 13, "labelOffset": 3, "labelOverlap": false}}}},
{"mark": {"type": "rule", "color": "#ff0000", "strokeWidth": 3.5}, "encoding": {"x": {"datum": 181.2, "type": "quantitative", "scale": {"domain": [-16.975, 236.11], "nice": false, "zero": false}, "axis": null}, "x2": {"datum": 192.9}, "y": {"datum": 39.3, "type": "quantitative", "scale": {"domain": [-80, 60], "nice": false, "zero": false}, "axis": {"values": [-80,-60,-40,-20,0,20,40,60], "labelExpr": "datum.value == 60 ? '60' : (datum.value == -80 ? '-80' : '')", "title": null, "offset": -38, "tickSize": 16, "tickWidth": 1.5, "domainWidth": 1.5, "domainColor": "black", "tickColor": "black", "labelFont": "Liberation Serif", "labelFontSize": 21, "labelFontWeight": "normal", "labelColor": "black", "labelPadding": 13, "labelOffset": 3, "labelOverlap": false}}}},
{"mark": {"type": "text", "text": "K leak", "align": "left", "baseline": "alphabetic", "fontSize": 21, "fontWeight": "bold", "font": "Liberation Serif", "color": "black"}, "encoding": {"x": {"datum": 194.1, "type": "quantitative", "scale": {"domain": [-16.975, 236.11], "nice": false, "zero": false}, "axis": null}, "y": {"datum": 37.1, "type": "quantitative", "scale": {"domain": [-80, 60], "nice": false, "zero": false}, "axis": {"values": [-80,-60,-40,-20,0,20,40,60], "labelExpr": "datum.value == 60 ? '60' : (datum.value == -80 ? '-80' : '')", "title": null, "offset": -38, "tickSize": 16, "tickWidth": 1.5, "domainWidth": 1.5, "domainColor": "black", "tickColor": "black", "labelFont": "Liberation Serif", "labelFontSize": 21, "labelFontWeight": "normal", "labelColor": "black", "labelPadding": 13, "labelOffset": 3, "labelOverlap": false}}}},
{"mark": {"type": "square", "size": 676, "filled": true, "fill": "white", "stroke": "black", "strokeWidth": 1.2, "opacity": 1}, "encoding": {"x": {"datum": 172.8, "type": "quantitative", "scale": {"domain": [-16.975, 236.11], "nice": false, "zero": false}, "axis": null}, "y": {"datum": 109.0, "type": "quantitative", "scale": {"domain": [-80, 60], "nice": false, "zero": false}, "axis": {"values": [-80,-60,-40,-20,0,20,40,60], "labelExpr": "datum.value == 60 ? '60' : (datum.value == -80 ? '-80' : '')", "title": null, "offset": -38, "tickSize": 16, "tickWidth": 1.5, "domainWidth": 1.5, "domainColor": "black", "tickColor": "black", "labelFont": "Liberation Serif", "labelFontSize": 21, "labelFontWeight": "normal", "labelColor": "black", "labelPadding": 13, "labelOffset": 3, "labelOverlap": false}}}},
{"mark": {"type": "square", "size": 676, "filled": true, "fill": "#ff0000", "stroke": "black", "strokeWidth": 1.2, "opacity": 1}, "encoding": {"x": {"datum": 220.4, "type": "quantitative", "scale": {"domain": [-16.975, 236.11], "nice": false, "zero": false}, "axis": null}, "y": {"datum": 107.1, "type": "quantitative", "scale": {"domain": [-80, 60], "nice": false, "zero": false}, "axis": {"values": [-80,-60,-40,-20,0,20,40,60], "labelExpr": "datum.value == 60 ? '60' : (datum.value == -80 ? '-80' : '')", "title": null, "offset": -38, "tickSize": 16, "tickWidth": 1.5, "domainWidth": 1.5, "domainColor": "black", "tickColor": "black", "labelFont": "Liberation Serif", "labelFontSize": 21, "labelFontWeight": "normal", "labelColor": "black", "labelPadding": 13, "labelOffset": 3, "labelOverlap": false}}}},
{"mark": {"type": "text", "text": "CTRL", "align": "left", "baseline": "alphabetic", "fontSize": 21, "fontWeight": "bold", "font": "Liberation Serif", "color": "black"}, "encoding": {"x": {"datum": 179.9, "type": "quantitative", "scale": {"domain": [-16.975, 236.11], "nice": false, "zero": false}, "axis": null}, "y": {"datum": 105.4, "type": "quantitative", "scale": {"domain": [-80, 60], "nice": false, "zero": false}, "axis": {"values": [-80,-60,-40,-20,0,20,40,60], "labelExpr": "datum.value == 60 ? '60' : (datum.value == -80 ? '-80' : '')", "title": null, "offset": -38, "tickSize": 16, "tickWidth": 1.5, "domainWidth": 1.5, "domainColor": "black", "tickColor": "black", "labelFont": "Liberation Serif", "labelFontSize": 21, "labelFontWeight": "normal", "labelColor": "black", "labelPadding": 13, "labelOffset": 3, "labelOverlap": false}}}},
{"mark": {"type": "text", "text": "NP", "align": "left", "baseline": "alphabetic", "fontSize": 21, "fontWeight": "bold", "font": "Liberation Serif", "color": "black"}, "encoding": {"x": {"datum": 226.9, "type": "quantitative", "scale": {"domain": [-16.975, 236.11], "nice": false, "zero": false}, "axis": null}, "y": {"datum": 104.8, "type": "quantitative", "scale": {"domain": [-80, 60], "nice": false, "zero": false}, "axis": {"values": [-80,-60,-40,-20,0,20,40,60], "labelExpr": "datum.value == 60 ? '60' : (datum.value == -80 ? '-80' : '')", "title": null, "offset": -38, "tickSize": 16, "tickWidth": 1.5, "domainWidth": 1.5, "domainColor": "black", "tickColor": "black", "labelFont": "Liberation Serif", "labelFontSize": 21, "labelFontWeight": "normal", "labelColor": "black", "labelPadding": 13, "labelOffset": 3, "labelOverlap": false}}}},
{"mark": {"type": "text", "text": "C", "align": "left", "baseline": "alphabetic", "fontSize": 15, "fontWeight": "bold", "font": "Liberation Serif", "color": "black"}, "encoding": {"x": {"datum": 235.5, "type": "quantitative", "scale": {"domain": [-16.975, 236.11], "nice": false, "zero": false}, "axis": null}, "y": {"datum": 98.7, "type": "quantitative", "scale": {"domain": [-80, 60], "nice": false, "zero": false}, "axis": {"values": [-80,-60,-40,-20,0,20,40,60], "labelExpr": "datum.value == 60 ? '60' : (datum.value == -80 ? '-80' : '')", "title": null, "offset": -38, "tickSize": 16, "tickWidth": 1.5, "domainWidth": 1.5, "domainColor": "black", "tickColor": "black", "labelFont": "Liberation Serif", "labelFontSize": 21, "labelFontWeight": "normal", "labelColor": "black", "labelPadding": 13, "labelOffset": 3, "labelOverlap": false}}}},
{"mark": {"type": "rule", "color": "black", "strokeWidth": 3.5}, "encoding": {"x": {"datum": 196.3, "type": "quantitative", "scale": {"domain": [-16.975, 236.11], "nice": false, "zero": false}, "axis": null}, "x2": {"datum": 206.2}, "y": {"datum": -87.1, "type": "quantitative", "scale": {"domain": [-80, 60], "nice": false, "zero": false}, "axis": {"values": [-80,-60,-40,-20,0,20,40,60], "labelExpr": "datum.value == 60 ? '60' : (datum.value == -80 ? '-80' : '')", "title": null, "offset": -38, "tickSize": 16, "tickWidth": 1.5, "domainWidth": 1.5, "domainColor": "black", "tickColor": "black", "labelFont": "Liberation Serif", "labelFontSize": 21, "labelFontWeight": "normal", "labelColor": "black", "labelPadding": 13, "labelOffset": 3, "labelOverlap": false}}}},
{"mark": {"type": "text", "text": "10ms", "align": "left", "baseline": "alphabetic", "fontSize": 21, "fontWeight": "bold", "font": "Liberation Serif", "color": "black"}, "encoding": {"x": {"datum": 196.6, "type": "quantitative", "scale": {"domain": [-16.975, 236.11], "nice": false, "zero": false}, "axis": null}, "y": {"datum": -102.2, "type": "quantitative", "scale": {"domain": [-80, 60], "nice": false, "zero": false}, "axis": {"values": [-80,-60,-40,-20,0,20,40,60], "labelExpr": "datum.value == 60 ? '60' : (datum.value == -80 ? '-80' : '')", "title": null, "offset": -38, "tickSize": 16, "tickWidth": 1.5, "domainWidth": 1.5, "domainColor": "black", "tickColor": "black", "labelFont": "Liberation Serif", "labelFontSize": 21, "labelFontWeight": "normal", "labelColor": "black", "labelPadding": 13, "labelOffset": 3, "labelOverlap": false}}}}
]
}
]
}
